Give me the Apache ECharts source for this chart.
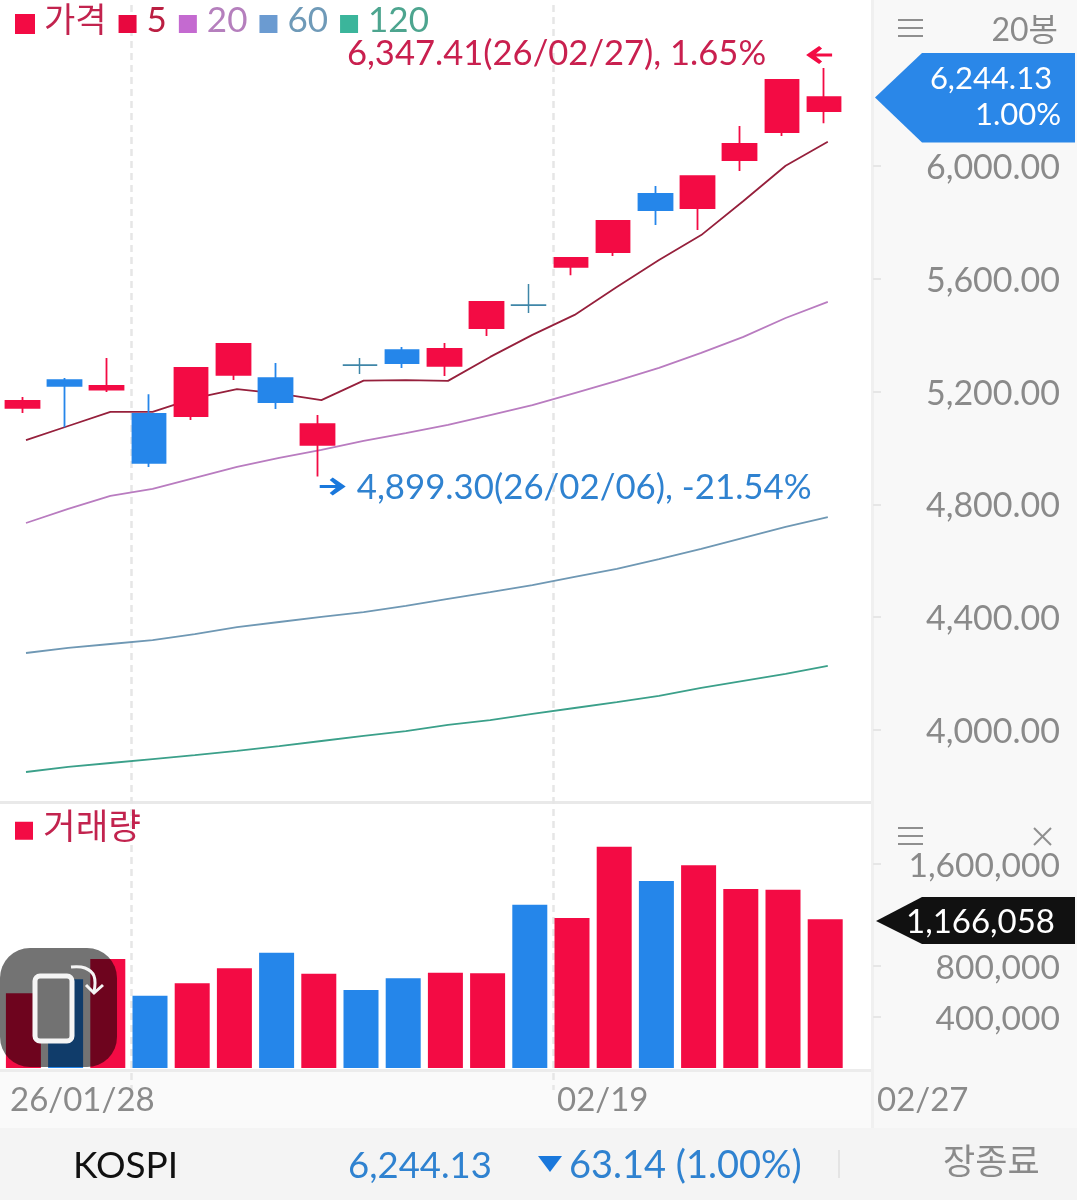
<!DOCTYPE html>
<html lang="ko">
<head>
    <meta charset="UTF-8">
    <title>KOSPI</title>
    <script src="https://cdn.jsdelivr.net/npm/echarts@6/dist/echarts.min.js"></script>
    <style>
        html, body { margin: 0; padding: 0; background: #fff; }
        #chart { width: 1077px; height: 1200px; }
    </style>
</head>
<body>
<div id="chart"></div>
<script>
    // [open, close, low, high], 20 candles
    var categories = ['26/01/23','26/01/26','26/01/27','26/01/28','26/01/29','26/01/30','26/02/02','26/02/03','26/02/04','26/02/05',
        '26/02/06','26/02/09','26/02/10','26/02/11','26/02/12','26/02/13','26/02/19','26/02/20','26/02/23','26/02/27'];
    var candles = [
        [5142,5167,5124,5181],[5241,5220,5074,5248],[5207,5220,5199,5319],[5121,4947,4933,5191],
        [5113,5284,5099,5285],[5259,5369,5241,5372],[5248,5163,5138,5301],[5011,5085,4899.30,5117],
        [5294,5293,5262,5319],[5347,5301,5284,5358],[5291,5351,5255,5372],[5425,5518,5397,5519],
        [5507,5506,5479,5582],[5642,5674,5613,5677],[5695,5805,5681,5806],[5901,5844,5791,5929],
        [5851,5964,5773,5965],[6021,6078,5982,6142],[6120,6305,6106,6308],[6195,6244.13,6152,6347.41]
    ];
    var ma5 = [5028,5078,5128,5128,5177,5209,5193,5170,5239,5241,5238,5323,5401,5472,5571,5667,5755,5876,6001,6086];
    var ma20 = [4734,4784,4830,4855,4894,4933,4965,4993,5025,5053,5082,5117,5152,5195,5238,5284,5337,5394,5461,5518];
    var ma60 = [4273,4291,4305,4319,4340,4365,4383,4401,4418,4440,4465,4489,4514,4543,4571,4606,4642,4681,4720,4755];
    var ma120 = [3851,3869,3883,3897,3911,3926,3943,3961,3979,3996,4018,4035,4057,4078,4099,4121,4149,4174,4199,4227];
    var volumes = [586000,696000,855000,567000,664000,782000,904000,740000,612000,703000,748000,743000,1281000,1176000,1736000,1467000,1590000,1404000,1398000,1166058];

    var priceTicks = [4000,4400,4800,5200,5600,6000];
    var volumeTicks = [400000,800000,1600000];
    var dateLabels = ['26/01/28','02/19','02/27'];
    var dashIndexes = [3,13];

    var FONT = 'Lato, "Noto Sans CJK KR", sans-serif';
    var RED = '#f30b44';
    var BLUE = '#2586ea';
    var GREY = '#8a8a8a';
    // legend square sits lower than its text, so the icon box has a blank top
    var LEGEND_ICON = 'path://M0,0L0,0z M0,6h18v18h-18z';
    var ARROW_RIGHT = 'path://M0,7.5h16l-6,-5l3,-2.5l13,9l-13,9l-3,-2.5l6,-5h-16z';
    var ARROW_LEFT = 'path://M26,7.5h-16l6,-5l-3,-2.5l-13,9l13,9l3,-2.5l-6,-5h16z';

    var chart = echarts.init(document.getElementById('chart'));

    function fmt(v, d) {
        return Number(v).toLocaleString('en-US', {minimumFractionDigits: d, maximumFractionDigits: d});
    }
    function text(x, y, s, size, color, align) {
        return {type: 'text', z: 60, silent: true, x: x, y: y, style: {
            text: s, fontFamily: FONT, fontSize: size, fill: color, align: align || 'left', verticalAlign: 'middle'
        }};
    }
    function bg(x, y, w, h, color, z) {
        return {type: 'rect', z: z === undefined ? -5 : z, silent: true, shape: {x: x, y: y, width: w, height: h}, style: {fill: color}};
    }
    function line(x1, y1, x2, y2, color, w) {
        return {type: 'line', z: 60, silent: true, shape: {x1: x1, y1: y1, x2: x2, y2: y2}, style: {stroke: color, lineWidth: w}};
    }
    function burger(x, y) {
        return [line(x, y, x + 25, y, '#8f8f8f', 2), line(x, y + 8, x + 25, y + 8, '#8f8f8f', 2), line(x, y + 16, x + 25, y + 16, '#8f8f8f', 2)];
    }

    var lastPrice = candles[19][1];
    var lastVolume = volumes[19];

    var graphics = [
        bg(873, 0, 204, 1128, '#f8f8f8'),
        bg(0, 1070, 873, 58, '#fafafa'),
        bg(0, 1128, 1077, 72, '#f4f4f4'),
        bg(0, 801, 873, 3, '#e9e9e9', -4),
        bg(0, 1069, 873, 3, '#ececec', -4),
        bg(871, 0, 3, 1128, '#f0f0f0', -4),
        {type: 'polygon', z: 60, silent: true, shape: {points: [[875,97.5],[922,53],[1075,53],[1075,142.5],[922,142.5]]}, style: {fill: '#2a87e8'}},
        text(991, 79, fmt(lastPrice, 2), 31, '#fff', 'center'),
        text(1061, 115, '1.00%', 31, '#fff', 'right'),
        {type: 'polygon', z: 60, silent: true, shape: {points: [[876,921],[922,897],[1075,897],[1075,944],[922,944]]}, style: {fill: '#111'}},
        text(1055, 922, fmt(lastVolume, 0), 33, '#fff', 'right'),
        text(1058, 31, '20봉', 32, GREY, 'right'),
        line(1034, 828, 1051, 845, '#8f8f8f', 2),
        line(1051, 828, 1034, 845, '#8f8f8f', 2),
        text(10, 1100, dateLabels[0], 33, GREY),
        text(557, 1100, dateLabels[1], 33, GREY),
        text(877, 1100, dateLabels[2], 33, GREY),
        text(73, 1166, 'KOSPI', 37, '#111'),
        text(348, 1166, fmt(lastPrice, 2), 36.5, '#2f82d0'),
        {type: 'polygon', z: 60, silent: true, shape: {points: [[538,1156],[562,1156],[550,1172]]}, style: {fill: '#1a78dc'}},
        text(569, 1166, '63.14 (1.00%)', 38, '#2f82d0'),
        line(839, 1150, 839, 1178, '#e4e4e4', 2),
        text(943, 1163, '장종료', 35, GREY),
        // rotate button overlay
        {type: 'rect', z: 70, silent: true, shape: {x: 0, y: 948, width: 117, height: 119, r: 30}, style: {fill: 'rgba(0,0,0,0.55)'}},
        {type: 'rect', z: 71, silent: true, shape: {x: 35, y: 976, width: 37, height: 65, r: 5}, style: {fill: '#727272', stroke: '#f5f5f5', lineWidth: 5}},
        {type: 'polyline', z: 71, silent: true, shape: {smooth: 0.4, points: [[71,967],[85,968],[94,976],[94,992]]}, style: {fill: 'none', stroke: '#f5f5f5', lineWidth: 3}},
        {type: 'polyline', z: 71, silent: true, shape: {points: [[86,985],[94,993],[103,985]]}, style: {fill: 'none', stroke: '#f5f5f5', lineWidth: 3}}
    ].concat(burger(898, 20), burger(898, 828));

    function hiddenAxis(index) {
        return {type: 'category', gridIndex: index, data: categories, show: false};
    }
    function maSeries(name, data, color) {
        return {name: name, type: 'line', xAxisIndex: 1, yAxisIndex: 1, data: data, symbol: 'none', z: 3,
            lineStyle: {color: color, width: 1.8}, itemStyle: {color: color}};
    }
    // annotation text sitting next to a candle's extreme
    function note(idx, price, s, offset, align, size, color) {
        return {coord: [idx, price], symbol: 'rect', symbolSize: 1, itemStyle: {color: 'rgba(0,0,0,0)'},
            label: {show: true, position: 'inside', offset: offset, align: align, verticalAlign: 'middle',
                formatter: s, fontFamily: FONT, fontSize: size, color: color}};
    }
    function arrow(idx, price, path, symbolOffset, color) {
        return {coord: [idx, price], symbol: path, symbolSize: [26, 18], symbolOffset: symbolOffset,
            itemStyle: {color: color}, label: {show: false}};
    }

    // near-flat candles read as a thin teal-blue cross
    var candleData = candles.map(function (c) {
        if (Math.abs(c[0] - c[1]) < 5) {
            return {value: c, itemStyle: {borderColor0: '#3f86a8', color0: '#3f86a8', borderWidth: 1.5}};
        }
        return c;
    });

    var option = {
        animation: false,
        textStyle: {fontFamily: FONT},
        graphic: {elements: graphics},
        legend: [{
            left: 15, top: 3.5, padding: 0, itemWidth: 18, itemHeight: 24, itemGap: 12, selectedMode: false,
            textStyle: {fontFamily: FONT, fontSize: 35, padding: [0, 0, 0, 5]},
            data: [
                {name: '가격', icon: LEGEND_ICON, itemStyle: {color: RED}, textStyle: {color: '#c2234e', fontSize: 34}},
                {name: '5', icon: LEGEND_ICON, itemStyle: {color: '#e8083f'}, textStyle: {color: '#bb1f42'}},
                {name: '20', icon: LEGEND_ICON, itemStyle: {color: '#c46ad0'}, textStyle: {color: '#b57fbd'}},
                {name: '60', icon: LEGEND_ICON, itemStyle: {color: '#6b9bd1'}, textStyle: {color: '#6f9ab8'}},
                {name: '120', icon: LEGEND_ICON, itemStyle: {color: '#3bb59b'}, textStyle: {color: '#4da58f'}}
            ]
        }, {
            left: 15, top: 810, padding: 0, itemWidth: 18, itemHeight: 24, selectedMode: false,
            textStyle: {fontFamily: FONT, fontSize: 35.5, color: '#c2234e', padding: [0, 0, 0, 5]},
            data: [{name: '거래량', icon: LEGEND_ICON, itemStyle: {color: RED}}]
        }],
        grid: [
            {left: 1.2, top: 53.2, width: 844, height: 733.2},
            {left: 4.9, top: 53.2, width: 844, height: 733.2},
            {left: 2.3, top: 813, width: 844, height: 255},
            {left: 4.9, top: 5, width: 844, height: 1085}
        ],
        xAxis: [
            hiddenAxis(0), hiddenAxis(1), hiddenAxis(2),
            {type: 'category', gridIndex: 3, data: categories, axisLine: {show: false}, axisTick: {show: false}, axisLabel: {show: false},
                splitLine: {show: true, showMinLine: true, showMaxLine: false, interval: function (i) { return dashIndexes.indexOf(i) >= 0; },
                    lineStyle: {color: '#e6e6e6', width: 2.5, type: [7, 5]}}}
        ],
        yAxis: [
            {type: 'value', gridIndex: 0, position: 'right', offset: 27.8, min: 3800, max: 6400, splitLine: {show: false},
                axisLine: {show: false},
                axisTick: {show: true, length: 8, customValues: priceTicks, lineStyle: {color: '#e6e6e6', width: 2}},
                axisLabel: {customValues: priceTicks, align: 'right', margin: 187, fontFamily: FONT, fontSize: 34, color: GREY, verticalAlign: 'top', lineHeight: 4,
                    formatter: function (v) { return fmt(v, 2); }}},
            {type: 'value', gridIndex: 1, min: 3800, max: 6400, show: false},
            {type: 'value', gridIndex: 2, position: 'right', offset: 26.7, min: 0, max: 2000000, splitLine: {show: false},
                axisLine: {show: false},
                axisTick: {show: true, length: 8, customValues: volumeTicks, lineStyle: {color: '#e6e6e6', width: 2}},
                axisLabel: {customValues: volumeTicks, align: 'right', margin: 187, fontFamily: FONT, fontSize: 33.6, color: GREY, verticalAlign: 'top', lineHeight: 4,
                    formatter: function (v) { return fmt(v, 0); }}},
            {type: 'value', gridIndex: 3, show: false}
        ],
        series: [
            {name: '가격', type: 'candlestick', xAxisIndex: 0, yAxisIndex: 0, data: candleData, barWidth: 34, z: 4,
                itemStyle: {color: RED, color0: BLUE, borderColor: RED, borderColor0: BLUE, borderWidth: 1.8},
                markPoint: {silent: true, data: [
                    note(19, 6347.41, '6,347.41(26/02/27), 1.65%', [-58, -14], 'right', 34.6, '#c9204f'),
                    arrow(19, 6347.41, ARROW_LEFT, [-5, -13], RED),
                    note(7, 4899.30, '4,899.30(26/02/06), -21.54%', [39, 11], 'left', 34.8, '#2f82d0'),
                    arrow(7, 4899.30, ARROW_RIGHT, [15, 10], '#1a78dc')
                ]}},
            maSeries('5', ma5, '#96203c'),
            maSeries('20', ma20, '#b97cc0'),
            maSeries('60', ma60, '#6f98b4'),
            maSeries('120', ma120, '#3ba08a'),
            {name: '거래량', type: 'bar', xAxisIndex: 2, yAxisIndex: 2, data: volumes, barWidth: 35, z: 3,
                itemStyle: {color: function (p) { return candles[p.dataIndex][1] >= candles[p.dataIndex][0] ? RED : BLUE; }}}
        ]
    };
    chart.setOption(option);
</script>
</body>
</html>
